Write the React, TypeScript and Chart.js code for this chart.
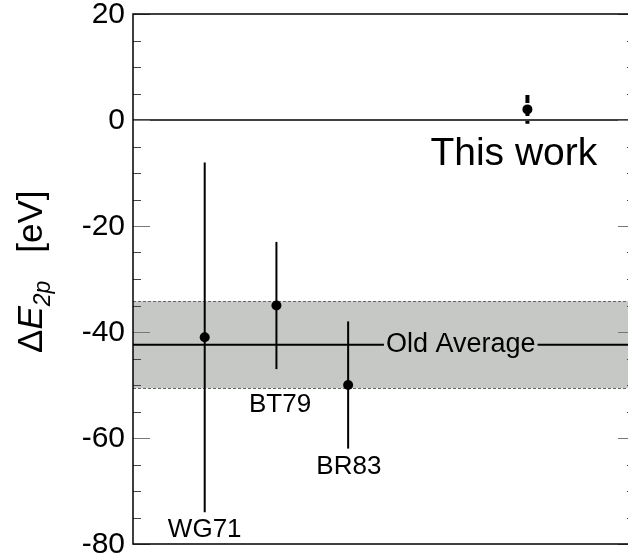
import React, { useEffect, useRef } from "react";
import { Chart, registerables } from "chart.js";

Chart.register(...registerables);

// ---- data ----
const categories = ["WG71", "BT79", "BR83", "This work"];
const xPositions = [1, 2, 3, 5.5];
const values = [-41, -35, -50, 2];
const errMinus = [33, 12, 12, 2.7];
const errPlus = [33, 12, 12, 2.7];
const oldAverage = -42.4;
const oldAverageErr = 8.2;
const yTickValues = [-80, -60, -40, -20, 0, 20];
const yMin = -80;
const yMax = 20;
const xMin = 0;
const xMax = 7;

const FONT = "'Liberation Sans', Arial, Helvetica, sans-serif";

const decorPlugin = {
  id: "decor",
  beforeDatasetsDraw(chart: any) {
    const { ctx, chartArea } = chart;
    const xs = chart.scales.x;
    const ys = chart.scales.y;
    const L = chartArea.left, R = chartArea.right;
    ctx.save();
    // band
    const yTop = ys.getPixelForValue(oldAverage + oldAverageErr);
    const yBot = ys.getPixelForValue(oldAverage - oldAverageErr);
    ctx.fillStyle = "#c5c8c5";
    ctx.fillRect(L, yTop, R - L, yBot - yTop);
    ctx.strokeStyle = "#666";
    ctx.lineWidth = 1;
    ctx.setLineDash([3, 2]);
    ctx.beginPath();
    ctx.moveTo(L, Math.round(yTop) + 0.5);
    ctx.lineTo(R, Math.round(yTop) + 0.5);
    ctx.moveTo(L, Math.round(yBot) + 0.5);
    ctx.lineTo(R, Math.round(yBot) + 0.5);
    ctx.stroke();
    ctx.setLineDash([]);

    // old average line with label
    const yAvg = ys.getPixelForValue(oldAverage);
    ctx.font = `27px ${FONT}`;
    const label = "Old Average";
    const tw = ctx.measureText(label).width;
    const cx = xs.getPixelForValue(4.57);
    ctx.strokeStyle = "#000";
    ctx.lineWidth = 2;
    ctx.beginPath();
    ctx.moveTo(L, yAvg);
    ctx.lineTo(cx - tw / 2 - 2, yAvg);
    ctx.moveTo(cx + tw / 2 + 2, yAvg);
    ctx.lineTo(R, yAvg);
    ctx.stroke();
    ctx.fillStyle = "#000";
    ctx.textAlign = "center";
    ctx.textBaseline = "middle";
    ctx.fillText(label, cx, yAvg);

    // zero line
    const y0 = ys.getPixelForValue(0);
    ctx.lineWidth = 1.5;
    ctx.beginPath();
    ctx.moveTo(L, y0);
    ctx.lineTo(R, y0);
    ctx.stroke();

    // error bars
    for (let i = 0; i < values.length; i++) {
      const px = xs.getPixelForValue(xPositions[i]);
      const pTop = ys.getPixelForValue(values[i] + errPlus[i]);
      const pBot = ys.getPixelForValue(values[i] - errMinus[i]);
      ctx.beginPath();
      if (i === values.length - 1) {
        ctx.lineWidth = 4;
        ctx.setLineDash([8, 5]);
      } else {
        ctx.lineWidth = 2;
        ctx.setLineDash([]);
      }
      ctx.moveTo(px, pTop);
      ctx.lineTo(px, pBot);
      ctx.stroke();
    }
    ctx.setLineDash([]);
    ctx.restore();
  },
  afterDraw(chart: any) {
    const { ctx, chartArea } = chart;
    const xs = chart.scales.x;
    const ys = chart.scales.y;
    const L = chartArea.left, R = chartArea.right, T = chartArea.top, B = chartArea.bottom;
    ctx.save();
    // ticks
    for (let v = yMin; v <= yMax; v += 5) {
      const py = Math.round(ys.getPixelForValue(v)) + 0.5;
      const major = v % 20 === 0;
      const len = major ? 17 : 8;
      ctx.strokeStyle = major ? "#777" : "#444";
      ctx.lineWidth = 1;
      ctx.beginPath();
      ctx.moveTo(L, py);
      ctx.lineTo(L + len, py);
      ctx.moveTo(R, py);
      ctx.lineTo(R - len, py);
      ctx.stroke();
    }
    // frame
    ctx.strokeStyle = "#000";
    ctx.lineWidth = 1.5;
    ctx.strokeRect(L, T, R - L, B - T);

    // tick labels
    ctx.fillStyle = "#000";
    ctx.font = `30px ${FONT}`;
    ctx.textAlign = "right";
    ctx.textBaseline = "middle";
    for (const v of yTickValues) {
      ctx.fillText(String(v), L - 8, ys.getPixelForValue(v) + 1);
    }

    // point labels
    ctx.textAlign = "center";
    ctx.textBaseline = "middle";
    const labelAnchors = [
      [1, -77.3, 26],
      [2.05, -53.8, 26],
      [3.01, -65.5, 26],
      [5.31, -6.4, 39],
    ];
    for (let i = 0; i < categories.length; i++) {
      const [lx, ly, fs] = labelAnchors[i];
      ctx.font = `${fs}px ${FONT}`;
      ctx.fillText(categories[i], xs.getPixelForValue(lx), ys.getPixelForValue(ly));
    }

    // y title
    const pieces = [
      { t: "\u0394", f: `35px ${FONT}`, dy: 0, gap: 0 },
      { t: "E", f: `italic 35px ${FONT}`, dy: 0, gap: 0 },
      { t: "2p", f: `italic 23px ${FONT}`, dy: 8, gap: 28 },
      { t: "[eV]", f: `35px ${FONT}`, dy: 0, gap: 0 },
    ];
    ctx.translate(42, 353);
    ctx.rotate(-Math.PI / 2);
    ctx.textAlign = "left";
    ctx.textBaseline = "alphabetic";
    let x = 0;
    pieces.forEach((p) => {
      ctx.font = p.f;
      ctx.fillText(p.t, x, p.dy);
      x += ctx.measureText(p.t).width + p.gap;
    });
    ctx.restore();
  },
};

export default function App() {
  const ref = useRef<HTMLCanvasElement>(null);
  useEffect(() => {
    document.body.style.margin = "0";
    const canvas = ref.current!;
    const chart = new Chart(canvas, {
      type: "scatter",
      data: {
        datasets: [
          {
            data: xPositions.map((x, i) => ({ x, y: values[i] })),
            pointRadius: 5,
            pointBackgroundColor: "#000",
            pointBorderColor: "#000",
            pointBorderWidth: 0,
            showLine: false,
          },
        ],
      },
      options: {
        animation: false,
        responsive: false,
        devicePixelRatio: 1,
        layout: { padding: { top: 14, bottom: 16, left: 0, right: 5 } },
        plugins: { legend: { display: false }, tooltip: { enabled: false } },
        scales: {
          x: { type: "linear", display: false, min: xMin, max: xMax },
          y: {
            type: "linear",
            min: yMin,
            max: yMax,
            afterFit(scale: any) {
              scale.width = 133;
            },
            afterBuildTicks(scale: any) {
              scale.ticks = yTickValues.map((v) => ({ value: v }));
            },
            grid: { display: false, drawTicks: false },
            border: { display: false },
            ticks: { display: false },
          },
        },
      },
      plugins: [decorPlugin],
    });
    return () => chart.destroy();
  }, []);
  return (
    <div
      style={{
        position: "fixed",
        left: 0,
        top: 0,
        width: 628,
        height: 560,
        overflow: "hidden",
        background: "#fff",
      }}
    >
      <canvas ref={ref} width={640} height={560} style={{ width: 640, height: 560 }} />
    </div>
  );
}
